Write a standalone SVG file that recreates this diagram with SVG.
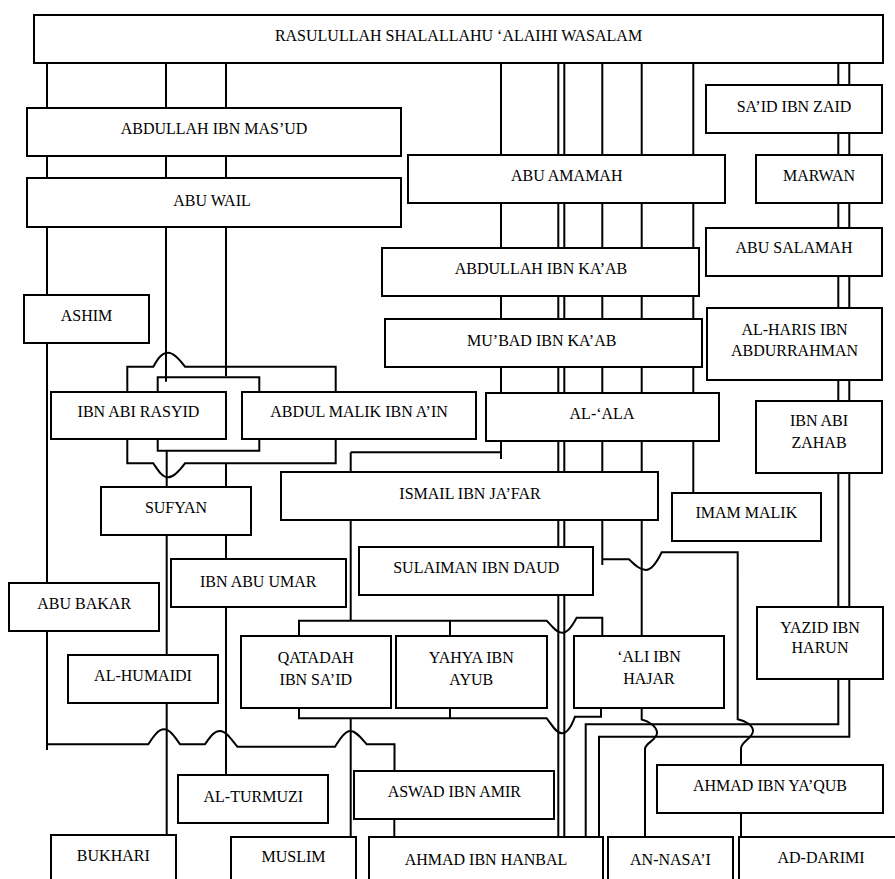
<svg xmlns="http://www.w3.org/2000/svg" width="895" height="879" viewBox="0 0 895 879" font-family="'Liberation Serif', 'DejaVu Serif', serif">
<style>
.box{fill:#fff;stroke:#000;stroke-width:2}
.ln{fill:none;stroke:#000;stroke-width:2}
.lbl{font-size:16px;text-anchor:middle;fill:#000}
</style>
<rect width="895" height="879" fill="#fff"/>
<g id="connectors" class="ln">
  <!-- left chain -->
  <path d="M47,63 V750"/>
  <path d="M166,63 V381.7"/>
  <path d="M226,63 V376"/>
  <path d="M127.3,391 V366.7 H153.3 C158,358 162,352.7 168.3,352.7 C174,352.7 180,360 185,366.7 H335.7 V391"/>
  <path d="M157.7,391 V377.3 H259.3 V391"/>
  <path d="M157.7,439 V450.7 H259.3 V439"/>
  <path d="M127.3,439 V463.3 H153.3 C158,470 162,477.3 168,477.3 C174,477.3 180,470 185,463.3 H335.7 V439"/>
  <path d="M166.7,450.7 V835"/>
  <path d="M226,463.3 V775"/>
  <path d="M47,744.3 H148.3 C153,737 158,729.3 164,729.3 C170,729.3 175,737 180,744.3 H205 C210,737 214,731 220,731 C226,731 231,739 237.3,746.7 H335 C340,739 345,731 350.5,731 C356,731 361,738 366.7,744.3 H394.5 V771"/>
  <!-- middle chain -->
  <path d="M501,63 V459"/>
  <path d="M350.7,452.3 H501"/>
  <path d="M350.7,452.3 V472"/>
  <path d="M350.7,520 V620.7"/>
  <path d="M299,636 V620.7 H546.7 C552,626 556,632.7 562,632.7 C568,632.7 572,626 576.7,617.7 H602.3 V636"/>
  <path d="M450,620.7 V636"/>
  <path d="M299,708 V718.3 H546.7 C552,725 556,733.3 562,733.3 C568,733.3 572,725 575,716.7 H601 V708"/>
  <path d="M450,708 V718.3"/>
  <path d="M350.7,718.3 V837"/>
  <path d="M558.3,63 V837"/>
  <path d="M564.3,63 V837"/>
  <path d="M602.3,63 V565"/>
  <path d="M602.3,559.3 H629 C635,565 640,570 646,570 C652,570 657,562 661.7,552.3 H737.7 V719.3 C745,721 753,725 753,731 C753,738 741,742 741,748.3 V765"/>
  <path d="M641.7,63 V636"/>
  <path d="M641.7,708 V719.5 C648,721 657,726 657,733 C657,740 645,743 645,749 V837"/>
  <path d="M693.3,63 V493"/>
  <!-- right chain -->
  <path d="M838.3,63 V724.3 H585.7 V837"/>
  <path d="M849.3,63 V736.7 H599 V837"/>
  <path d="M741,813 V837"/>
  <path d="M394.3,819 V837"/>
</g>
<g id="rasulullah"><rect class="box" x="34" y="15" width="849" height="48"/><text class="lbl" x="458.5" y="41">RASULULLAH SHALALLAHU ‘ALAIHI WASALAM</text></g>
<g id="abdullah-ibn-masud"><rect class="box" x="27" y="108" width="374" height="48"/><text class="lbl" x="214" y="133.5">ABDULLAH IBN MAS’UD</text></g>
<g id="abu-wail"><rect class="box" x="27" y="178" width="374" height="49"/><text class="lbl" x="212" y="205.5">ABU WAIL</text></g>
<g id="said-ibn-zaid"><rect class="box" x="706" y="85" width="176" height="48"/><text class="lbl" x="794" y="111.5">SA’ID IBN ZAID</text></g>
<g id="abu-amamah"><rect class="box" x="408" y="155" width="317" height="48"/><text class="lbl" x="566.7" y="180.5">ABU AMAMAH</text></g>
<g id="marwan"><rect class="box" x="756" y="155" width="126" height="48"/><text class="lbl" x="819" y="180.5">MARWAN</text></g>
<g id="abu-salamah"><rect class="box" x="706" y="228" width="176" height="48"/><text class="lbl" x="794" y="252.5">ABU SALAMAH</text></g>
<g id="abdullah-ibn-kaab"><rect class="box" x="382" y="248" width="317" height="48"/><text class="lbl" x="541" y="273.5">ABDULLAH IBN KA’AB</text></g>
<g id="mubad-ibn-kaab"><rect class="box" x="385" y="319" width="317" height="48"/><text class="lbl" x="541.7" y="346">MU’BAD IBN KA’AB</text></g>
<g id="al-haris"><rect class="box" x="707" y="308" width="175" height="72"/><text class="lbl" x="794.5" y="334.5">AL-HARIS IBN</text><text class="lbl" x="794.5" y="356">ABDURRAHMAN</text></g>
<g id="ashim"><rect class="box" x="24" y="295" width="125" height="48"/><text class="lbl" x="86.5" y="321">ASHIM</text></g>
<g id="al-ala"><rect class="box" x="486" y="393" width="233" height="48"/><text class="lbl" x="602" y="418.5">AL-‘ALA</text></g>
<g id="ibn-abi-zahab"><rect class="box" x="756" y="401" width="126" height="72"/><text class="lbl" x="819" y="426">IBN ABI</text><text class="lbl" x="819" y="448">ZAHAB</text></g>
<g id="ibn-abi-rasyid"><rect class="box" x="51" y="392" width="175" height="47"/><text class="lbl" x="138.5" y="417">IBN ABI RASYID</text></g>
<g id="abdul-malik"><rect class="box" x="242" y="392" width="234" height="47"/><text class="lbl" x="359" y="417">ABDUL MALIK IBN A’IN</text></g>
<g id="ismail"><rect class="box" x="281" y="472" width="377" height="48"/><text class="lbl" x="470" y="498.5">ISMAIL IBN JA’FAR</text></g>
<g id="sufyan"><rect class="box" x="101" y="487" width="150" height="48"/><text class="lbl" x="176" y="513">SUFYAN</text></g>
<g id="imam-malik"><rect class="box" x="672" y="493" width="149" height="48"/><text class="lbl" x="746.3" y="518">IMAM MALIK</text></g>
<g id="sulaiman"><rect class="box" x="359" y="547" width="234" height="48"/><text class="lbl" x="476.3" y="573">SULAIMAN IBN DAUD</text></g>
<g id="ibn-abu-umar"><rect class="box" x="171" y="559" width="175" height="48"/><text class="lbl" x="258.2" y="587">IBN ABU UMAR</text></g>
<g id="abu-bakar"><rect class="box" x="9" y="583" width="150" height="48"/><text class="lbl" x="84.2" y="609">ABU BAKAR</text></g>
<g id="yazid"><rect class="box" x="757" y="607" width="126" height="72"/><text class="lbl" x="820" y="632.8">YAZID IBN</text><text class="lbl" x="820" y="653.2">HARUN</text></g>
<g id="qatadah"><rect class="box" x="241" y="636" width="150" height="72"/><text class="lbl" x="315.8" y="663">QATADAH</text><text class="lbl" x="315.8" y="685">IBN SA’ID</text></g>
<g id="yahya"><rect class="box" x="396" y="636" width="151" height="72"/><text class="lbl" x="471.3" y="663">YAHYA IBN</text><text class="lbl" x="471.3" y="685">AYUB</text></g>
<g id="ali-ibn-hajar"><rect class="box" x="574" y="636" width="150" height="72"/><text class="lbl" x="649" y="662">‘ALI IBN</text><text class="lbl" x="649" y="684">HAJAR</text></g>
<g id="al-humaidi"><rect class="box" x="68" y="655" width="150" height="48"/><text class="lbl" x="143" y="680.5">AL-HUMAIDI</text></g>
<g id="aswad"><rect class="box" x="354" y="771" width="200" height="48"/><text class="lbl" x="454.3" y="796.5">ASWAD IBN AMIR</text></g>
<g id="al-turmuzi"><rect class="box" x="178" y="775" width="150" height="48"/><text class="lbl" x="253.3" y="801.5">AL-TURMUZI</text></g>
<g id="ahmad-ibn-yaqub"><rect class="box" x="657" y="765" width="226" height="48"/><text class="lbl" x="770" y="790.5">AHMAD IBN YA’QUB</text></g>
<g id="bukhari"><rect class="box" x="51" y="835" width="125" height="60"/><text class="lbl" x="113.3" y="860.5">BUKHARI</text></g>
<g id="muslim"><rect class="box" x="231" y="837" width="125" height="60"/><text class="lbl" x="293.5" y="862">MUSLIM</text></g>
<g id="ahmad-ibn-hanbal"><rect class="box" x="369" y="837" width="234" height="60"/><text class="lbl" x="486" y="864.5">AHMAD IBN HANBAL</text></g>
<g id="an-nasai"><rect class="box" x="608" y="837" width="125" height="60"/><text class="lbl" x="670.5" y="864.5">AN-NASA’I</text></g>
<g id="ad-darimi"><rect class="box" x="739" y="837" width="170" height="60"/><text class="lbl" x="821" y="862.5">AD-DARIMI</text></g>
</svg>
